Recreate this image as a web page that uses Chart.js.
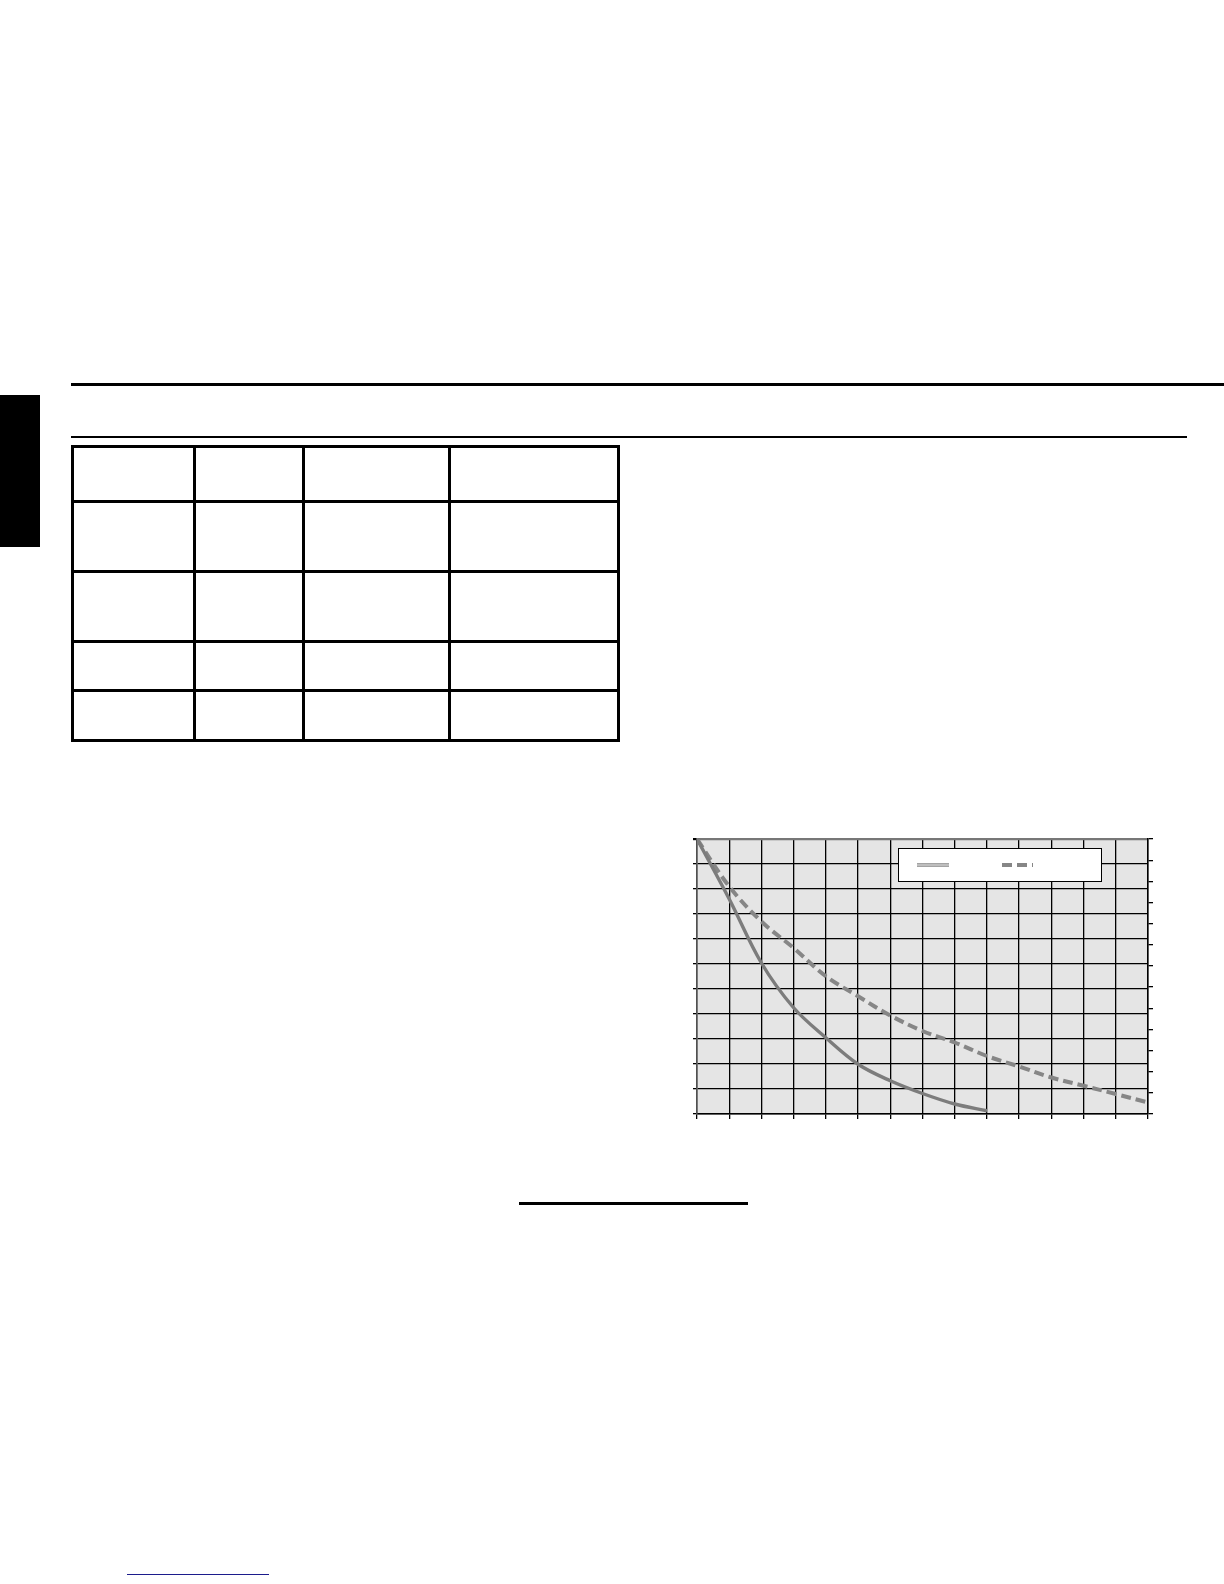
<!DOCTYPE html>
<html>
<head>
<meta charset="utf-8">
<script src="https://cdn.jsdelivr.net/npm/chart.js@4.4.1/dist/chart.umd.min.js"></script>
<style>
  html, body { margin: 0; padding: 0; background: #fff; }
  body { width: 1224px; height: 1584px; position: relative; overflow: hidden; font-family: "Liberation Sans", Arial, sans-serif; }
  .blk { position: absolute; background: #000; }
  #chartBox { position: absolute; left: 677px; top: 829px; width: 491px; height: 300px; }
</style>
</head>
<body>

<!-- page rules and side tab -->
<div class="blk" style="left:0;top:395px;width:40px;height:152px;"></div>
<div class="blk" style="left:71px;top:383px;width:1153px;height:3px;"></div>
<div class="blk" style="left:71px;top:436px;width:1116px;height:1.5px;"></div>
<div class="blk" style="left:519px;top:1202px;width:229px;height:2.5px;"></div>
<div class="blk" style="left:127px;top:1574px;width:142px;height:1.3px;background:#1c1c8c;"></div>

<!-- empty table -->
<div id="table"></div>

<div id="chartBox"><canvas id="curveChart" width="491" height="300"></canvas></div>

<script>
// table grid (page layout)
var tableCols = [72, 194, 303, 449, 618];
var tableRows = [446, 501, 571, 641, 690, 740];

// chart data (grid units)
var xValues = [0, 1, 2, 3, 4, 5, 6, 7, 8, 9, 10, 11, 12, 13, 14];
var solidValues = [11, 8.6, 6.04, 4.25, 3.05, 1.99, 1.33, 0.82, 0.40, 0.13];
var dashedValues = [11, 9.1, 7.7, 6.64, 5.51, 4.71, 3.94, 3.32, 2.86, 2.32, 1.90, 1.46, 1.13, 0.80, 0.46];
var xMax = 14;
var leftMax = 11;
var rightMax = 13;

(function(){
    var t = document.getElementById('table');
    var top = tableRows[0], bottom = tableRows[tableRows.length - 1];
    var left = tableCols[0], right = tableCols[tableCols.length - 1];
    tableCols.forEach(function(x){
        var d = document.createElement('div');
        d.className = 'blk';
        d.style.cssText = 'left:' + (x - 1.5) + 'px;top:' + (top - 1.5) + 'px;width:3px;height:' + (bottom - top + 3) + 'px;';
        t.appendChild(d);
    });
    tableRows.forEach(function(y){
        var d = document.createElement('div');
        d.className = 'blk';
        d.style.cssText = 'left:' + (left - 1.5) + 'px;top:' + (y - 1.5) + 'px;width:' + (right - left + 3) + 'px;height:3px;';
        t.appendChild(d);
    });
})();

function toPoints(vals){
    var pts = [];
    for (var i = 0; i < vals.length; i++) {
        pts.push({x: xValues[i], y: vals[i]});
    }
    return pts;
}

var plotBackground = {
    id: 'plotBackground',
    beforeDraw: function(chart){
        var a = chart.chartArea, c = chart.ctx;
        c.save();
        c.fillStyle = '#e5e5e5';
        c.fillRect(a.left, a.top, a.right - a.left, a.bottom - a.top);
        c.restore();
    }
};

// legend box inside the plot, samples only
var boxLegend = {
    id: 'boxLegend',
    afterDraw: function(chart){
        var a = chart.chartArea, c = chart.ctx;
        var bx = a.left + 201, by = a.top + 9, bw = 204, bh = 34;
        var ly = by + 17;
        c.save();
        c.fillStyle = '#fff';
        c.fillRect(bx, by, bw, bh);
        c.strokeStyle = '#000';
        c.lineWidth = 1;
        c.strokeRect(bx + 0.5, by + 0.5, bw - 1, bh - 1);
        c.lineCap = 'butt';
        c.strokeStyle = '#7c7c7c';
        c.lineWidth = 3.4;
        c.beginPath(); c.moveTo(bx + 19, ly); c.lineTo(bx + 51, ly); c.stroke();
        c.strokeStyle = '#d4d4d4';
        c.lineWidth = 1.5;
        c.beginPath(); c.moveTo(bx + 19, ly); c.lineTo(bx + 51, ly); c.stroke();
        c.strokeStyle = '#868686';
        c.lineWidth = 4;
        c.setLineDash([10, 5]);
        c.beginPath(); c.moveTo(bx + 104, ly); c.lineTo(bx + 135, ly); c.stroke();
        c.restore();
    }
};

var ctx = document.getElementById('curveChart');
var curveChart = new Chart(ctx, {
    type: 'line',
    data: {
        datasets: [
            {
                data: toPoints(solidValues),
                borderColor: '#7c7c7c',
                borderWidth: 3.4,
                pointRadius: 0,
                fill: false,
                tension: 0.35,
                yAxisID: 'y'
            },
            {
                data: toPoints(solidValues),
                borderColor: '#d4d4d4',
                borderWidth: 1.5,
                pointRadius: 0,
                fill: false,
                tension: 0.35,
                yAxisID: 'y'
            },
            {
                data: toPoints(dashedValues),
                borderColor: '#868686',
                borderWidth: 4,
                borderDash: [10, 5],
                pointRadius: 0,
                fill: false,
                tension: 0.35,
                yAxisID: 'y'
            }
        ]
    },
    options: {
        responsive: false,
        animation: false,
        events: [],
        layout: { padding: { top: 10, left: 0, right: 0, bottom: 0 } },
        plugins: {
            legend: { display: false },
            tooltip: { enabled: false }
        },
        scales: {
            x: {
                type: 'linear',
                min: 0,
                max: xMax,
                ticks: { display: false, stepSize: 1 },
                grid: {
                    color: function(c){ return c.tick && c.tick.value === 0 ? '#505050' : '#000'; },
                    lineWidth: 1.3,
                    tickLength: 5,
                    tickColor: '#000'
                },
                border: { color: '#000', width: 1.5 },
                afterFit: function(scale){ scale.height = 15; }
            },
            y: {
                position: 'left',
                min: 0,
                max: leftMax,
                ticks: { display: false, stepSize: 1 },
                grid: {
                    color: function(c){ return c.tick && c.tick.value === leftMax ? '#777' : '#000'; },
                    lineWidth: function(c){ return c.tick && c.tick.value === leftMax ? 2.2 : 1.3; },
                    tickLength: 4,
                    tickColor: '#000'
                },
                border: { color: '#505050', width: 1.6 },
                afterFit: function(scale){ scale.width = 20; }
            },
            y2: {
                position: 'right',
                min: 0,
                max: rightMax,
                ticks: { display: false, stepSize: 1 },
                grid: {
                    drawOnChartArea: false,
                    tickLength: 5,
                    tickColor: '#000',
                    lineWidth: 1.3
                },
                border: { color: '#000', width: 1.5 },
                afterFit: function(scale){ scale.width = 20; }
            }
        }
    },
    plugins: [plotBackground, boxLegend]
});
</script>
</body>
</html>
